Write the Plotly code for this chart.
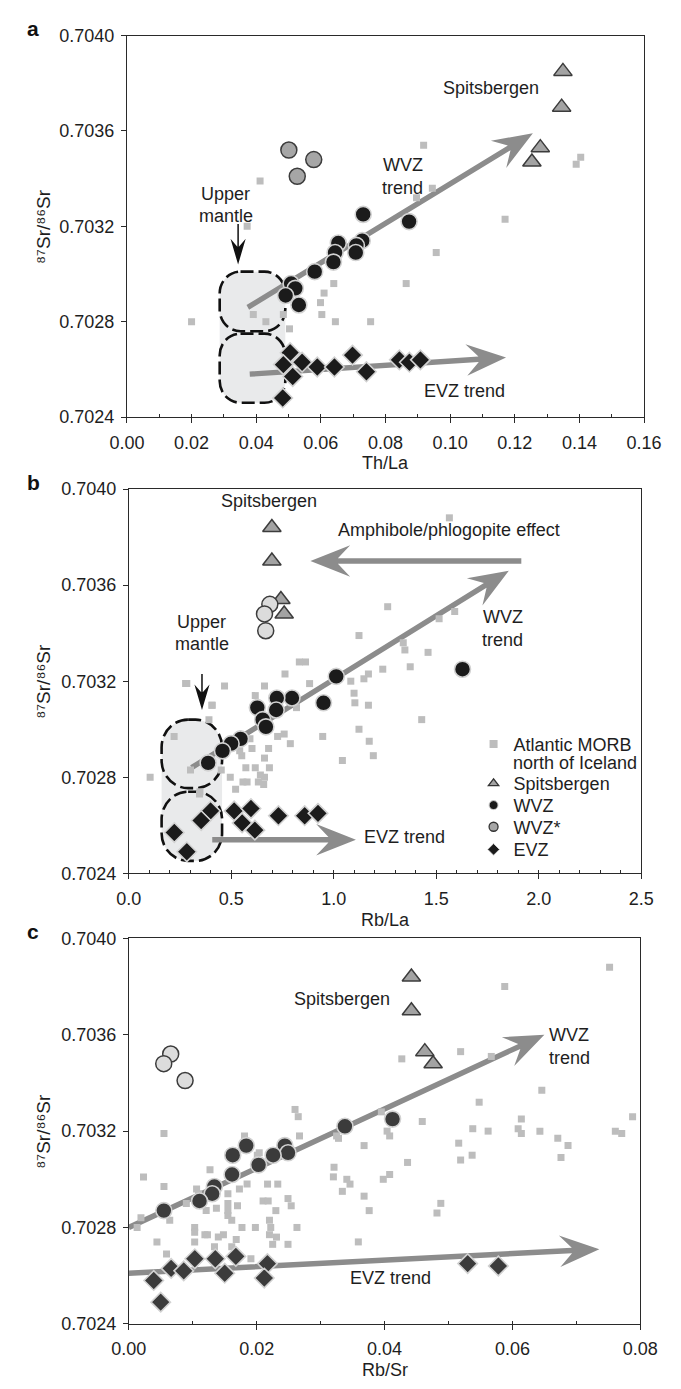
import math
import plotly.graph_objects as go

W_FIG, H_FIG = 681, 1389
FONT = "Liberation Sans, Arial, sans-serif"
TXT = "#1e1e1e"

# ---------------- data: panel a (Th/La) ----------------
a_morb_x = [0.0918, 0.0412, 0.0945, 0.0896, 0.0372, 0.1170, 0.0957, 0.1404, 0.1390, 0.0200, 0.0391,
            0.0430, 0.0484, 0.0503, 0.0640, 0.0610, 0.0599, 0.0603, 0.0645, 0.0754, 0.0864]
a_morb_y = [0.70354, 0.70339, 0.70336, 0.70332, 0.70320, 0.70323, 0.70309, 0.70349, 0.70346, 0.70280, 0.70283,
            0.70280, 0.70283, 0.70277, 0.70296, 0.70292, 0.70288, 0.70283, 0.70280, 0.70280, 0.70296]
a_spits_x = [0.1349, 0.1345, 0.1279, 0.1253]
a_spits_y = [0.70385, 0.70370, 0.70353, 0.70347]
a_wvz_x = [0.0731, 0.0873, 0.0654, 0.0728, 0.0710, 0.0708, 0.0644, 0.0639, 0.0581, 0.0508, 0.0521, 0.0491, 0.0532]
a_wvz_y = [0.70325, 0.70322, 0.70313, 0.70314, 0.70312, 0.70309, 0.70309, 0.70305, 0.70301, 0.70296, 0.70294,
           0.70291, 0.70287]
a_wvzs_x = [0.0501, 0.0578, 0.0527]
a_wvzs_y = [0.70352, 0.70348, 0.70341]
a_evz_x = [0.0505, 0.0484, 0.0542, 0.0589, 0.0642, 0.0698, 0.0741, 0.0513, 0.0482, 0.0843, 0.0874, 0.0908]
a_evz_y = [0.70267, 0.70262, 0.70263, 0.70261, 0.70261, 0.70266, 0.70259, 0.70257, 0.70248, 0.70264, 0.70263,
           0.70264]

# ---------------- data: panel b (Rb/La) ----------------
b_morb_x = [1.564, 1.263, 1.590, 1.514, 1.123, 1.339, 1.347, 1.460, 0.832, 0.862, 1.373, 1.239, 1.169, 0.762,
            0.277, 0.467, 0.662, 0.882, 1.083, 1.147, 1.099, 1.103, 1.169, 0.617, 0.405, 0.818, 1.429, 0.391,
            1.123, 0.946, 0.221, 0.758, 0.726, 0.591, 1.173, 0.788, 0.682, 0.601, 1.193, 0.551, 0.662, 1.042,
            0.541, 0.301, 0.571, 0.617, 0.686, 0.451, 0.104, 0.495, 0.642, 0.662, 0.557, 0.577, 0.632, 0.658,
            0.521, 0.347, 0.345, 0.283, 0.407]
b_morb_y = [0.70388, 0.70351, 0.70349, 0.70346, 0.70339, 0.70336, 0.70333, 0.70332, 0.70328, 0.70328, 0.70326,
            0.70325, 0.70323, 0.70323, 0.70319, 0.70318, 0.70318, 0.70319, 0.70320, 0.70321, 0.70315, 0.70311,
            0.70310, 0.70314, 0.70310, 0.70309, 0.70304, 0.70304, 0.70300, 0.70297, 0.70297, 0.70298, 0.70297,
            0.70296, 0.70295, 0.70294, 0.70292, 0.70292, 0.70289, 0.70289, 0.70288, 0.70287, 0.70291, 0.70283,
            0.70284, 0.70284, 0.70284, 0.70283, 0.70280, 0.70280, 0.70281, 0.70280, 0.70278, 0.70278, 0.70278,
            0.70277, 0.70275, 0.70274, 0.70273, 0.70319, 0.70310]
b_spits_x = [0.698, 0.698, 0.742, 0.758]
b_spits_y = [0.70384, 0.70370, 0.70354, 0.70348]
b_wvzs_x = [0.688, 0.662, 0.668]
b_wvzs_y = [0.70352, 0.70348, 0.70341]
b_wvz_x = [1.012, 0.950, 0.796, 0.722, 0.719, 0.627, 0.653, 0.669, 0.545, 0.499, 0.457, 0.387, 1.628]
b_wvz_y = [0.70322, 0.70311, 0.70313, 0.70313, 0.70308, 0.70309, 0.70304, 0.70301, 0.70296, 0.70294, 0.70291,
           0.70286, 0.70325]
b_evz_x = [0.399, 0.353, 0.514, 0.596, 0.553, 0.615, 0.730, 0.858, 0.923, 0.222, 0.283]
b_evz_y = [0.70266, 0.70262, 0.70266, 0.70267, 0.70261, 0.70258, 0.70264, 0.70264, 0.70265, 0.70257, 0.70249]

# ---------------- data: panel c (Rb/Sr) ----------------
c_morb_x = [0.0752, 0.0588, 0.0427, 0.0519, 0.0567, 0.0646, 0.0548, 0.0260, 0.0395, 0.0614, 0.0788, 0.0459,
            0.0538, 0.0562, 0.0609, 0.0614, 0.0643, 0.0761, 0.0771, 0.0671, 0.0687, 0.0676, 0.0516, 0.0519,
            0.0537, 0.0404, 0.0408, 0.0368, 0.0325, 0.0328, 0.0436, 0.0321, 0.0320, 0.0408, 0.0398, 0.0341,
            0.0346, 0.0334, 0.0368, 0.0376, 0.0488, 0.0482, 0.0359, 0.0265, 0.0267, 0.0181, 0.0055, 0.0023,
            0.0055, 0.0127, 0.0204, 0.0019, 0.0013, 0.0064, 0.0090, 0.0106, 0.0109, 0.0103, 0.0103, 0.0103,
            0.0119, 0.0123, 0.0121, 0.0137, 0.0140, 0.0148, 0.0134, 0.0155, 0.0155, 0.0155, 0.0155, 0.0173,
            0.0170, 0.0177, 0.0168, 0.0161, 0.0185, 0.0198, 0.0201, 0.0210, 0.0218, 0.0217, 0.0233, 0.0222,
            0.0220, 0.0225, 0.0231, 0.0230, 0.0249, 0.0254, 0.0249, 0.0263, 0.0220, 0.0191, 0.0044, 0.0059,
            0.0161]
c_morb_y = [0.70388, 0.70380, 0.70350, 0.70353, 0.70351, 0.70337, 0.70332, 0.70329, 0.70328, 0.70325, 0.70326,
            0.70324, 0.70321, 0.70320, 0.70321, 0.70319, 0.70320, 0.70320, 0.70319, 0.70317, 0.70314, 0.70309,
            0.70315, 0.70308, 0.70310, 0.70320, 0.70318, 0.70314, 0.70318, 0.70317, 0.70307, 0.70305, 0.70301,
            0.70302, 0.70300, 0.70300, 0.70298, 0.70295, 0.70293, 0.70287, 0.70290, 0.70286, 0.70274, 0.70326,
            0.70318, 0.70318, 0.70319, 0.70301, 0.70297, 0.70304, 0.70311, 0.70284, 0.70280, 0.70283, 0.70290,
            0.70296, 0.70294, 0.70280, 0.70278, 0.70274, 0.70277, 0.70277, 0.70287, 0.70288, 0.70276, 0.70277,
            0.70272, 0.70294, 0.70290, 0.70287, 0.70285, 0.70296, 0.70289, 0.70280, 0.70275, 0.70272, 0.70298,
            0.70280, 0.70310, 0.70291, 0.70291, 0.70298, 0.70298, 0.70280, 0.70277, 0.70273, 0.70276, 0.70287,
            0.70292, 0.70289, 0.70273, 0.70280, 0.70283, 0.70267, 0.70274, 0.70269, 0.70283]
c_spits_x = [0.0442, 0.0442, 0.0463, 0.0476]
c_spits_y = [0.70384, 0.70370, 0.70353, 0.70348]
c_wvzs_x = [0.00655, 0.00546, 0.0088]
c_wvzs_y = [0.70352, 0.70348, 0.70341]
c_wvz_x = [0.01837, 0.01625, 0.0244, 0.0249, 0.02257, 0.0203, 0.01615, 0.01338, 0.01304, 0.01106, 0.00548,
           0.0338, 0.04125]
c_wvz_y = [0.70314, 0.70310, 0.70314, 0.70311, 0.70310, 0.70306, 0.70302, 0.70297, 0.70294, 0.70291, 0.70287,
           0.70322, 0.70325]
c_evz_x = [0.01032, 0.00662, 0.00859, 0.0039, 0.00499, 0.01353, 0.0150, 0.01674, 0.02168, 0.02119, 0.0530, 0.0578]
c_evz_y = [0.70267, 0.70263, 0.70262, 0.70258, 0.70249, 0.70267, 0.70261, 0.70268, 0.70265, 0.70259, 0.70265,
           0.70264]

# axis setup
x_ranges = [[0, 0.16], [0, 2.5], [0, 0.08]]
x_dticks = [0.02, 0.5, 0.02]
x_minor = [0.01, 0.1, 0.01]
x_fmt = [".2f", ".1f", ".2f"]
x_titles = ["Th/La", "Rb/La", "Rb/Sr"]
y_title = "\u2078\u2077Sr/\u2078\u2076Sr"
y_range = [0.7024, 0.7040]
panel_letters = ["a", "b", "c"]

# legend entries
leg_names = ["Atlantic MORB", "Spitsbergen", "WVZ", "WVZ*", "EVZ"]
leg_extra = "north of Iceland"

# pixel boxes of the plot areas (left, right, top, bottom)
boxes = [(115, 661, 26, 413), (117, 658, 486, 876), (117, 657, 942, 1333)]

fig = go.Figure()

def ax_names(i):
    s = "" if i == 0 else str(i + 1)
    return "x" + s, "y" + s

C_MORB = "#bdbdbd"
C_ARROW = "#8c8c8c"

panels = [
    dict(morb=(a_morb_x, a_morb_y), spits=(a_spits_x, a_spits_y), wvz=(a_wvz_x, a_wvz_y),
         wvzs=(a_wvzs_x, a_wvzs_y), evz=(a_evz_x, a_evz_y), dark="#1b1b1b", wvzs_fill="#a6a6a6"),
    dict(morb=(b_morb_x, b_morb_y), spits=(b_spits_x, b_spits_y), wvz=(b_wvz_x, b_wvz_y),
         wvzs=(b_wvzs_x, b_wvzs_y), evz=(b_evz_x, b_evz_y), dark="#1b1b1b", wvzs_fill="#dcdcdc"),
    dict(morb=(c_morb_x, c_morb_y), spits=(c_spits_x, c_spits_y), wvz=(c_wvz_x, c_wvz_y),
         wvzs=(c_wvzs_x, c_wvzs_y), evz=(c_evz_x, c_evz_y), dark="#3b3b3b", wvzs_fill="#dcdcdc"),
]

for i, p in enumerate(panels):
    xa, ya = ax_names(i)
    fig.add_trace(go.Scatter(x=p["morb"][0], y=p["morb"][1], mode="markers", xaxis=xa, yaxis=ya,
                             marker=dict(symbol="square", size=7, color=C_MORB, line=dict(width=0)),
                             showlegend=False))
    fig.add_trace(go.Scatter(x=p["spits"][0], y=p["spits"][1], mode="markers", xaxis=xa, yaxis=ya,
                             marker=dict(symbol="triangle-up", size=16, color="#a3a3a3",
                                         line=dict(width=1.5, color="#3c3c3c")), showlegend=False))
    fig.add_trace(go.Scatter(x=p["wvzs"][0], y=p["wvzs"][1], mode="markers", xaxis=xa, yaxis=ya,
                             marker=dict(symbol="circle", size=16, color=p["wvzs_fill"],
                                         line=dict(width=1.5, color="#3c3c3c")), showlegend=False))
    fig.add_trace(go.Scatter(x=p["wvz"][0], y=p["wvz"][1], mode="markers", xaxis=xa, yaxis=ya,
                             marker=dict(symbol="circle", size=16, color=p["dark"],
                                         line=dict(width=1.6, color="#d2d2d2")), showlegend=False))
    fig.add_trace(go.Scatter(x=p["evz"][0], y=p["evz"][1], mode="markers", xaxis=xa, yaxis=ya,
                             marker=dict(symbol="diamond", size=15, color=p["dark"],
                                         line=dict(width=1.6, color="#d2d2d2")), showlegend=False))

# legend proxies (no data points), each in its own legend box so spacing matches
leg_markers = [dict(symbol="square", size=8, color=C_MORB),
               dict(symbol="triangle-up", size=9, color="#a3a3a3", line=dict(width=1.3, color="#333")),
               dict(symbol="circle", size=9, color="#1b1b1b", line=dict(width=1, color="#d2d2d2")),
               dict(symbol="circle", size=9, color="#a6a6a6", line=dict(width=1.3, color="#333")),
               dict(symbol="diamond", size=9, color="#1b1b1b", line=dict(width=1, color="#d2d2d2"))]
leg_yc = [745, 785, 807, 829, 852]
leg_ids = ["legend", "legend2", "legend3", "legend4", "legend5"]
for nm, mk, lid in zip(leg_names, leg_markers, leg_ids):
    fig.add_trace(go.Scatter(x=[None], y=[None], mode="markers", name=nm, marker=mk,
                             xaxis="x2", yaxis="y2", showlegend=True, legend=lid))

layout = dict(width=W_FIG, height=H_FIG, margin=dict(l=0, r=0, t=0, b=0),
              paper_bgcolor="white", plot_bgcolor="white",
              font=dict(family=FONT, size=18, color=TXT))

LEG_X = 481
for lid, yc in zip(leg_ids, leg_yc):
    layout[lid] = dict(x=LEG_X / W_FIG, y=1 - yc / H_FIG, xanchor="left", yanchor="middle",
                       bgcolor="rgba(0,0,0,0)", borderwidth=0, font=dict(size=18, color=TXT),
                       itemwidth=30, itemsizing="trace", valign="middle")

annotations = []
shapes = []

# second line of the first legend entry
annotations.append(dict(text=leg_extra, xref="paper", yref="paper", x=(LEG_X + 40) / W_FIG,
                        y=1 - 764 / H_FIG, showarrow=False, xanchor="left", yanchor="middle",
                        font=dict(family=FONT, size=18, color=TXT)))

for i in range(3):
    l, r, t, b = boxes[i]
    xa, ya = ax_names(i)
    xkey = "xaxis" if i == 0 else "xaxis%d" % (i + 1)
    ykey = "yaxis" if i == 0 else "yaxis%d" % (i + 1)
    layout[xkey] = dict(domain=[l / W_FIG, r / W_FIG], range=x_ranges[i], anchor=ya,
                        dtick=x_dticks[i], tick0=0, tickformat=x_fmt[i], showgrid=False, zeroline=False,
                        showline=True, linecolor="#2a2a2a", linewidth=1, mirror=True,
                        ticks="outside", ticklen=5, tickcolor="#2a2a2a", tickwidth=1,
                        ticklabelstandoff=4,
                        minor=dict(dtick=x_minor[i], ticks="inside", ticklen=3, tickcolor="#2a2a2a",
                                   showgrid=False),
                        tickfont=dict(size=18, color=TXT))
    layout[ykey] = dict(domain=[1 - b / H_FIG, 1 - t / H_FIG], range=y_range, anchor=xa,
                        dtick=0.0004, tick0=0.7024, tickformat=".4f", showgrid=False, zeroline=False,
                        showline=True, linecolor="#2a2a2a", linewidth=1, mirror=True,
                        ticks="outside", ticklen=5, tickcolor="#2a2a2a", tickwidth=1,
                        ticklabelstandoff=3, tickfont=dict(size=18, color=TXT))
    annotations.append(dict(text=x_titles[i], xref="paper", yref="paper", x=(l + r) / 2 / W_FIG,
                            y=1 - (b + 47) / H_FIG, showarrow=False, xanchor="center", yanchor="middle",
                            font=dict(family=FONT, size=18, color=TXT)))
    annotations.append(dict(text=y_title, xref="paper", yref="paper",
                            x=27 / W_FIG, y=1 - (t + b) / 2 / H_FIG, textangle=-90, showarrow=False,
                            xanchor="center", yanchor="middle", font=dict(family=FONT, size=19, color=TXT)))
    annotations.append(dict(text=panel_letters[i], xref="paper", yref="paper",
                            x=16 / W_FIG, y=1 - (t - 7) / H_FIG, showarrow=False, xanchor="center",
                            yanchor="middle", font=dict(family=FONT, size=21, color="#111", weight="bold")))


def scales(i):
    l, r, t, b = boxes[i]
    sx = (r - l) / (x_ranges[i][1] - x_ranges[i][0])
    sy = (b - t) / (y_range[1] - y_range[0])
    return sx, sy


def to_paper(i, x, y, dy_px=0.0):
    l, r, t, b = boxes[i]
    px = l + (x - x_ranges[i][0]) / (x_ranges[i][1] - x_ranges[i][0]) * (r - l)
    py = b - (y - y_range[0]) / (y_range[1] - y_range[0]) * (b - t) + dy_px
    return px / W_FIG, 1 - py / H_FIG


def fmt(v):
    return "%.8g" % v


def arrow_shape(i, x0, y0, x1, y1, shaft, L, Wd, N, color, layer="below"):
    sx, sy = scales(i)
    X0, Y0, X1, Y1 = x0 * sx, y0 * sy, x1 * sx, y1 * sy
    dx, dy = X1 - X0, Y1 - Y0
    ln = math.hypot(dx, dy)
    ux, uy = dx / ln, dy / ln
    nx, ny = -uy, ux
    h = shaft / 2
    pts = [
        (X0 + h * nx, Y0 + h * ny),
        (X1 - (L - N) * ux + h * nx, Y1 - (L - N) * uy + h * ny),
        (X1 - L * ux + Wd / 2 * nx, Y1 - L * uy + Wd / 2 * ny),
        (X1, Y1),
        (X1 - L * ux - Wd / 2 * nx, Y1 - L * uy - Wd / 2 * ny),
        (X1 - (L - N) * ux - h * nx, Y1 - (L - N) * uy - h * ny),
        (X0 - h * nx, Y0 - h * ny),
    ]
    path = "M " + " L ".join("%s,%s" % (fmt(px / sx), fmt(py / sy)) for px, py in pts) + " Z"
    xa, ya = ax_names(i)
    return dict(type="path", path=path, xref=xa, yref=ya, fillcolor=color,
                line=dict(width=0), layer=layer)


def rounded_rect(i, x0, x1, y0, y1, rpx, fill=None):
    sx, sy = scales(i)
    rx, ry = rpx / sx, rpx / sy
    k = 0.5523
    p = []
    p.append("M %s,%s" % (fmt(x0 + rx), fmt(y1)))
    p.append("L %s,%s" % (fmt(x1 - rx), fmt(y1)))
    p.append("C %s,%s %s,%s %s,%s" % (fmt(x1 - rx + k * rx), fmt(y1), fmt(x1), fmt(y1 - ry + k * ry), fmt(x1), fmt(y1 - ry)))
    p.append("L %s,%s" % (fmt(x1), fmt(y0 + ry)))
    p.append("C %s,%s %s,%s %s,%s" % (fmt(x1), fmt(y0 + ry - k * ry), fmt(x1 - rx + k * rx), fmt(y0), fmt(x1 - rx), fmt(y0)))
    p.append("L %s,%s" % (fmt(x0 + rx), fmt(y0)))
    p.append("C %s,%s %s,%s %s,%s" % (fmt(x0 + rx - k * rx), fmt(y0), fmt(x0), fmt(y0 + ry - k * ry), fmt(x0), fmt(y0 + ry)))
    p.append("L %s,%s" % (fmt(x0), fmt(y1 - ry)))
    p.append("C %s,%s %s,%s %s,%s" % (fmt(x0), fmt(y1 - ry + k * ry), fmt(x0 + rx - k * rx), fmt(y1), fmt(x0 + rx), fmt(y1)))
    p.append("Z")
    xa, ya = ax_names(i)
    d = dict(type="path", path=" ".join(p), xref=xa, yref=ya, layer="below")
    if fill:
        d["fillcolor"] = fill
        d["line"] = dict(width=0)
    else:
        d["line"] = dict(width=2.6, color="#111", dash="13px,5px")
    return d


MANTLE_FILL = "#e9eaeb"
mantle = [
    (0, 0.0287, 0.0490, (0.70276, 0.70301), (0.70246, 0.70275), 22),
    (1, 0.160, 0.455, (0.702755, 0.70304), (0.702452, 0.70274), 28),
]
for (i, x0, x1, up, lo, rr) in mantle:
    shapes.append(rounded_rect(i, x0, x1, lo[0], up[1], rr, fill=MANTLE_FILL))
    shapes.append(rounded_rect(i, x0, x1, up[0], up[1], rr))
    shapes.append(rounded_rect(i, x0, x1, lo[0], lo[1], rr))

big_arrows = [
    (0, 0.0374, 0.70286, 0.1256, 0.70359),
    (0, 0.0380, 0.70258, 0.1173, 0.70265),
    (1, 0.306, 0.70284, 1.854, 0.70366),
    (1, 0.407, 0.70254, 1.108, 0.70254),
    (1, 1.915, 0.70370, 0.886, 0.70370),
    (2, 0.0, 0.70280, 0.0650, 0.70360),
    (2, 0.0, 0.70261, 0.0736, 0.70271),
]
for (i, x0, y0, x1, y1) in big_arrows:
    shapes.append(arrow_shape(i, x0, y0, x1, y1, 5.5, 42, 32, 13, C_ARROW))

small_arrows = [
    (0, 0.0344, 0.70321, 0.0344, 0.70304),
    (1, 0.357, 0.70323, 0.357, 0.70308),
]
for (i, x0, y0, x1, y1) in small_arrows:
    shapes.append(arrow_shape(i, x0, y0, x1, y1, 1.6, 26, 16, 8, "#111", layer="above"))

# text labels: (panel, x, y, lines)
labels = [
    (0, 0.0306, 0.70329, ["Upper", "mantle"]),
    (0, 0.0854, 0.70341, ["WVZ", "trend"]),
    (0, 0.1125, 0.70378, ["Spitsbergen"]),
    (0, 0.1043, 0.70251, ["EVZ trend"]),
    (1, 0.355, 0.70340, ["Upper", "mantle"]),
    (1, 1.824, 0.70342, ["WVZ", "trend"]),
    (1, 0.686, 0.70395, ["Spitsbergen"]),
    (1, 1.564, 0.70383, ["Amphibole/phlogopite effect"]),
    (1, 1.347, 0.70255, ["EVZ trend"]),
    (2, 0.0333, 0.70375, ["Spitsbergen"]),
    (2, 0.0689, 0.70355, ["WVZ", "trend"]),
    (2, 0.0410, 0.70259, ["EVZ trend"]),
]
LINE_H = 23.0
for (i, x, y, lines) in labels:
    n = len(lines)
    for k, t in enumerate(lines):
        off = (k - (n - 1) / 2) * LINE_H
        px, py = to_paper(i, x, y, off)
        annotations.append(dict(text=t, x=px, y=py, xref="paper", yref="paper", showarrow=False,
                                xanchor="center", yanchor="middle",
                                font=dict(family=FONT, size=18, color=TXT)))

layout["annotations"] = annotations
layout["shapes"] = shapes
layout["showlegend"] = True

fig.update_layout(**layout)
fig.write_html("out.html", config={"displayModeBar": False},
               post_script="document.body.style.margin='0px';")
